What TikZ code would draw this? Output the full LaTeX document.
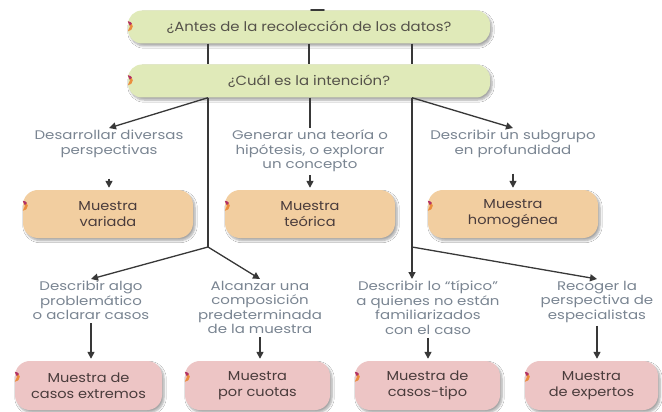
\documentclass[tikz,border=0pt]{standalone}
\usepackage{fontspec}
\setmainfont{Poppins}[FakeStretch=1.12]
\newfontfamily\lblfont{Poppins}[FakeStretch=1.2]
\usetikzlibrary{calc,arrows.meta,shadows.blur}
\definecolor{qgreen}{HTML}{E0EAB9}
\definecolor{borange}{HTML}{F2CEA0}
\definecolor{bpink}{HTML}{EDC5C5}
\definecolor{lnc}{HTML}{383838}
\definecolor{lblc}{HTML}{7A8592}
\definecolor{boxc}{HTML}{4A3C3C}
\definecolor{qtext}{HTML}{55524A}
\definecolor{tabo}{HTML}{EB8E3E}
\definecolor{tabm}{HTML}{B0306A}
\newcommand\tabmark[1]{%
  \begin{scope}[shift={($(#1.north west)+(0,16)$)}]
    \fill[tabo] (0,-5) arc[start angle=-90,end angle=90,radius=5] -- (2.2,0) -- cycle;
    \fill[tabm] (0,-5) arc[start angle=-90,end angle=-35,radius=5] -- (2,-0.6) -- cycle;
  \end{scope}}
\tikzset{
  shad/.style={blur shadow={shadow xshift=2pt,shadow yshift=-2.5pt,shadow blur steps=6,shadow opacity=35}},
  gbox/.style={shad,fill=qgreen,rounded corners=14pt,minimum width=362pt,minimum height=33pt,
    text=qtext,font=\fontsize{13.3}{15}\selectfont,inner sep=0pt},
  obox/.style={shad,fill=borange,rounded corners=15pt,minimum width=170pt,minimum height=48pt,
    text=boxc,font=\fontsize{13}{16}\selectfont,align=center,inner sep=0pt},
  pbox/.style={shad,fill=bpink,rounded corners=15pt,minimum height=49pt,
    text=boxc,font=\fontsize{13}{16}\selectfont,align=center,inner sep=0pt},
  lbl/.style={text=lblc,font=\lblfont\fontsize{12.5}{14.5}\selectfont,align=center,inner sep=2pt,anchor=north},
  ln/.style={draw=lnc,line width=1.3pt},
  arr/.style={ln,-{Triangle[length=7pt,width=7pt]}},
  sarr/.style={draw=lnc,line width=1.5pt,-{Triangle[length=7pt,width=7pt]},shorten >=2pt},
}
\begin{document}
\begin{tikzpicture}[x=1pt,y=-1pt]
\useasboundingbox[fill=white] (0,0) rectangle (662,412);
% question boxes
\node[gbox] (q1) at (309,27) {¿Antes de la recolección de los datos?};
\node[gbox] (q2) at (309,81) {¿Cuál es la intención?};
\tabmark{q1}\tabmark{q2}
\coordinate (b1) at (208,247);
\coordinate (b2) at (412,247);
\draw[line width=1.6pt,lnc,line cap=round] ($(q1.north)+(2,0)$) -- ($(q1.north)+(15,0)$);
% labels
\node[lbl] (t1) at (109,128) {Desarrollar diversas\\perspectivas};
\node[lbl] (t2) at (310,128) {Generar una teoría o\\hipótesis, o explorar\\un concepto};
\node[lbl] (t3) at (513,128) {Describir un subgrupo\\en profundidad};
\node[lbl] (t5) at (91,279) {Describir algo\\problemático\\o aclarar casos};
\node[lbl] (t6) at (260,279) {Alcanzar una\\composición\\predeterminada\\de la muestra};
\node[lbl] (t7) at (428,279) {Describir lo “típico”\\a quienes no están\\familiarizados\\con el caso};
\node[lbl] (t8) at (597,279) {Recoger la\\perspectiva de\\especialistas};
% sample boxes
\node[obox] (m1) at (108,214) {Muestra\\variada};
\node[obox] (m2) at (310,214) {Muestra\\teórica};
\node[obox] (m3) at (513,214) {Muestra\\homogénea};
\node[pbox,minimum width=147pt] (m4) at (88.5,385.5) {Muestra de\\casos extremos};
\node[pbox,minimum width=145pt] (m5) at (257.5,385.5) {Muestra\\por cuotas};
\node[pbox,minimum width=145pt] (m6) at (427.5,385.5) {Muestra de\\casos-tipo};
\node[pbox,minimum width=133pt] (m7) at (591.5,385.5) {Muestra\\de expertos};
\foreach \n in {m1,m2,m3,m4,m5,m6,m7}{\tabmark{\n}}
% connectors between question boxes
\draw[ln] (q1.south -| b1) -- (q2.north -| b1);
\draw[ln] (q1.south) -- (q2.north);
\draw[ln] (q1.south -| b2) -- (q2.north -| b2);
% from second question
\draw[ln] (q2.south -| b1) -- (b1);
\draw[arr] (q2.south -| b1) -- (t1.north);
\draw[ln] (q2.south -| t2) -- (t2.north);
\draw[arr] (q2.south -| b2) -- (t3.north);
\draw[ln] (q2.south -| b2) -- (b2);
\draw[arr] (b2) -- (b2 |- t7.north);
\draw[arr] (b1) -- (t5.north);
\draw[arr] (b1) -- (t6.north);
\draw[arr] (b2) -- (t8.north);
% label to box arrows
\draw[sarr,shorten <=19pt] (t1.south) -- (t1.south |- m1.north);
\draw[sarr,shorten <=1pt] (t2.south) -- (t2.south |- m2.north);
\draw[sarr,shorten <=14pt] (t3.south) -- (t3.south |- m3.north);
\draw[sarr,shorten <=1pt] (t5.south) -- (t5.south |- m4.north);
\draw[sarr,shorten <=1pt] (t6.south) -- (t6.south |- m5.north);
\draw[sarr,shorten <=1pt] (t7.south) -- (t7.south |- m6.north);
\draw[sarr,shorten <=1pt] (t8.south) -- (t8.south |- m7.north);
\end{tikzpicture}
\end{document}
